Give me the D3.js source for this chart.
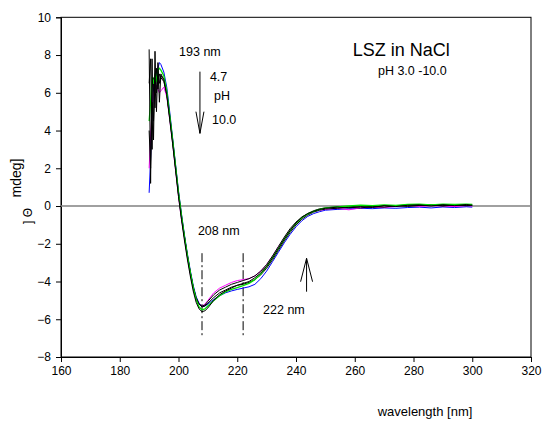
<!DOCTYPE html>
<html>
<head>
<meta charset="utf-8">
<script src="https://cdn.jsdelivr.net/npm/d3@7"></script>
<style>
html,body{margin:0;padding:0;background:#fff;}
svg{display:block;font-family:"Liberation Sans",Arial,sans-serif;}
</style>
</head>
<body>
<svg id="chart" width="542" height="423"></svg>
<script>
// ---------------- data ----------------
const wavelengths = [190,190.5,191,191.5,192,192.5,193,193.5,194,195,196,197,198,199,200,201,202,203,204,205,206,207,208,209,210,212,214,216,218,220,222,224,226,228,230,232,234,236,238,240,242,244,246,248,250,254,258,262,266,270,274,278,282,286,290,294,298,300];

const black1 = [8.3,1.2,7.8,3.5,8.2,5.0,7.6,5.5,7.0,6.7,5.9,4.6,3.3,1.9,0.5,-0.7,-1.8,-2.8,-3.7,-4.5,-5.1,-5.45,-5.6,-5.55,-5.4,-5.0,-4.7,-4.5,-4.35,-4.2,-4.1,-4.0,-3.8,-3.55,-3.2,-2.75,-2.25,-1.75,-1.3,-0.9,-0.6,-0.4,-0.28,-0.18,-0.12,-0.06,-0.1,-0.03,-0.08,0.02,-0.03,0.04,0.06,0.0,0.07,0.02,0.08,0.04];
const black2 = [6.5,7.8,3.0,6.8,5.2,7.3,6.2,7.0,6.8,6.6,5.9,4.7,3.4,2.0,0.6,-0.6,-1.6,-2.6,-3.5,-4.3,-4.9,-5.2,-5.3,-5.25,-5.05,-4.7,-4.45,-4.3,-4.15,-4.05,-3.95,-3.85,-3.7,-3.45,-3.1,-2.65,-2.15,-1.65,-1.2,-0.85,-0.58,-0.4,-0.25,-0.15,-0.1,-0.04,-0.05,0.02,-0.04,0.03,0.01,0.06,0.03,0.05,0.02,0.07,0.03,0.06];
const black3 = [4.0,2.0,5.5,4.5,6.8,6.0,7.2,6.5,6.9,6.7,6.0,4.8,3.5,2.1,0.7,-0.5,-1.6,-2.6,-3.5,-4.3,-4.85,-5.2,-5.35,-5.3,-5.15,-4.85,-4.6,-4.45,-4.3,-4.2,-4.15,-4.05,-3.9,-3.65,-3.3,-2.85,-2.35,-1.85,-1.4,-1.0,-0.7,-0.48,-0.32,-0.22,-0.16,-0.12,-0.07,-0.1,-0.03,-0.06,0.02,-0.02,0.03,0.06,0.0,0.05,0.02,0.03];
const blue   = [0.7,2.5,5.0,6.2,6.6,7.0,7.3,7.6,7.5,7.1,6.3,5.0,3.6,2.2,0.8,-0.4,-1.5,-2.5,-3.4,-4.2,-4.8,-5.15,-5.3,-5.3,-5.2,-4.95,-4.75,-4.6,-4.5,-4.42,-4.35,-4.28,-4.15,-3.85,-3.45,-2.95,-2.45,-1.95,-1.5,-1.1,-0.78,-0.55,-0.4,-0.3,-0.22,-0.18,-0.15,-0.12,-0.14,-0.1,-0.12,-0.08,-0.06,-0.1,-0.05,-0.08,-0.04,-0.06];
const magenta = [2.0,3.7,5.0,6.0,6.2,6.4,6.2,6.0,6.1,6.3,5.8,4.6,3.3,1.9,0.5,-0.7,-1.7,-2.7,-3.6,-4.35,-4.9,-5.2,-5.3,-5.2,-5.0,-4.6,-4.35,-4.2,-4.05,-3.95,-3.9,-3.85,-3.7,-3.45,-3.1,-2.65,-2.15,-1.7,-1.25,-0.9,-0.62,-0.43,-0.3,-0.22,-0.18,-0.12,-0.2,-0.1,-0.06,-0.08,-0.02,0.04,-0.02,0.02,0.0,-0.03,0.02,0.0];
const green  = [4.5,5.5,6.8,6.5,7.0,6.6,7.2,7.3,7.2,6.9,6.1,4.8,3.5,2.1,0.7,-0.5,-1.6,-2.6,-3.5,-4.3,-4.95,-5.35,-5.5,-5.45,-5.3,-5.0,-4.75,-4.55,-4.42,-4.32,-4.22,-4.1,-3.9,-3.6,-3.2,-2.75,-2.25,-1.75,-1.3,-0.92,-0.62,-0.42,-0.28,-0.18,-0.1,-0.04,0.0,0.04,0.02,0.06,0.03,0.08,0.1,0.06,0.1,0.08,0.1,0.08];

const xTicks = [160,180,200,220,240,260,280,300,320];
const yTicks = [-8,-6,-4,-2,0,2,4,6,8,10];
const markerLines = [208,222];

// ---------------- layout ----------------
const svg = d3.select('#chart');
const L = 61, R = 531, T = 17.3, B = 357;
const x = d3.scaleLinear().domain([160,320]).range([L,R]);
const y = d3.scaleLinear().domain([-8,10]).range([B,T]);
const font = '"Liberation Sans",Arial,sans-serif';

// frame
svg.append('rect').attr('x',L).attr('y',T).attr('width',R-L).attr('height',B-T)
  .attr('fill','none').attr('stroke','#000').attr('stroke-width',1);

// axes
const xAxis = svg.append('g').attr('transform',`translate(0,${B})`)
  .call(d3.axisBottom(x).tickValues(xTicks).tickSize(5).tickPadding(4).tickFormat(d3.format('d')));
const yAxis = svg.append('g').attr('transform',`translate(${L},0)`)
  .call(d3.axisLeft(y).tickValues(yTicks).tickSize(5).tickPadding(5).tickFormat(d3.format('d')));
[xAxis,yAxis].forEach(g=>{
  g.select('.domain').attr('stroke','#000');
  g.selectAll('.tick line').attr('stroke','#000');
  g.selectAll('.tick text').attr('font-family',font).attr('font-size',12).attr('fill','#000');
});

// zero line
svg.append('line').attr('x1',x(160)).attr('x2',x(320)).attr('y1',y(0)).attr('y2',y(0))
  .attr('stroke','#808080').attr('stroke-width',1.5);

// marker dash-dot lines
markerLines.forEach(w=>{
  svg.append('line').attr('x1',x(w)).attr('x2',x(w)).attr('y1',y(-2.5)).attr('y2',y(-7.0))
    .attr('stroke','#000').attr('stroke-width',1).attr('stroke-dasharray','9,3,2,3');
});

// spectra
const seriesList = [
  {v:blue, c:'#0000ff', w:1},
  {v:magenta, c:'#ff00ff', w:1},
  {v:black2, c:'#000000', w:1},
  {v:black3, c:'#000000', w:1},
  {v:green, c:'#00e000', w:1.3},
  {v:black1, c:'#000000', w:1}
];
const line = d3.line().x((d,i)=>x(wavelengths[i])).y(d=>y(d));
seriesList.forEach(s=>{
  svg.append('path').datum(s.v).attr('d',line).attr('fill','none')
    .attr('stroke',s.c).attr('stroke-width',s.w).attr('stroke-linejoin','round');
});

// annotations
function txt(xv,yv,s,size){
  svg.append('text').attr('x',x(xv)).attr('y',y(yv)).text(s)
    .attr('font-family',font).attr('font-size',size).attr('fill','#000');
}
txt(200.2,7.95,'193 nm',12.5);
txt(210.7,6.62,'4.7',12.5);
txt(212.1,5.62,'pH',12.5);
txt(211.4,4.35,'10.0',12.5);
txt(259.3,7.97,'LSZ in NaCl',18);
txt(267.9,6.94,'pH 3.0 -10.0',12.5);
txt(206.6,-1.54,'208 nm',12.5);
txt(228.8,-5.72,'222 nm',12.5);

// arrows
function arrow(xv,yFrom,yTip,yHead,half){
  svg.append('line').attr('x1',x(xv)).attr('x2',x(xv)).attr('y1',y(yFrom)).attr('y2',y(yTip))
    .attr('stroke','#000').attr('stroke-width',1);
  svg.append('path').attr('d',`M${x(xv-half)},${y(yHead)}L${x(xv)},${y(yTip)}L${x(xv+half)},${y(yHead)}`)
    .attr('fill','none').attr('stroke','#000').attr('stroke-width',1);
}
arrow(207.3,7.12,3.85,5.0,1.36);
arrow(243.6,-4.54,-2.77,-4.01,2.04);

// axis titles
svg.append('text').attr('transform','translate(21,178) rotate(-90)').attr('text-anchor','middle')
  .attr('font-family',font).attr('font-size',14).text('mdeg]');
svg.append('text').attr('transform','translate(32,216) rotate(-90)').attr('text-anchor','middle')
  .attr('font-family',font).attr('font-size',12).text('] Θ');
svg.append('text').attr('x',425).attr('y',416).attr('text-anchor','middle')
  .attr('font-family',font).attr('font-size',13).text('wavelength [nm]');
</script>
</body>
</html>
